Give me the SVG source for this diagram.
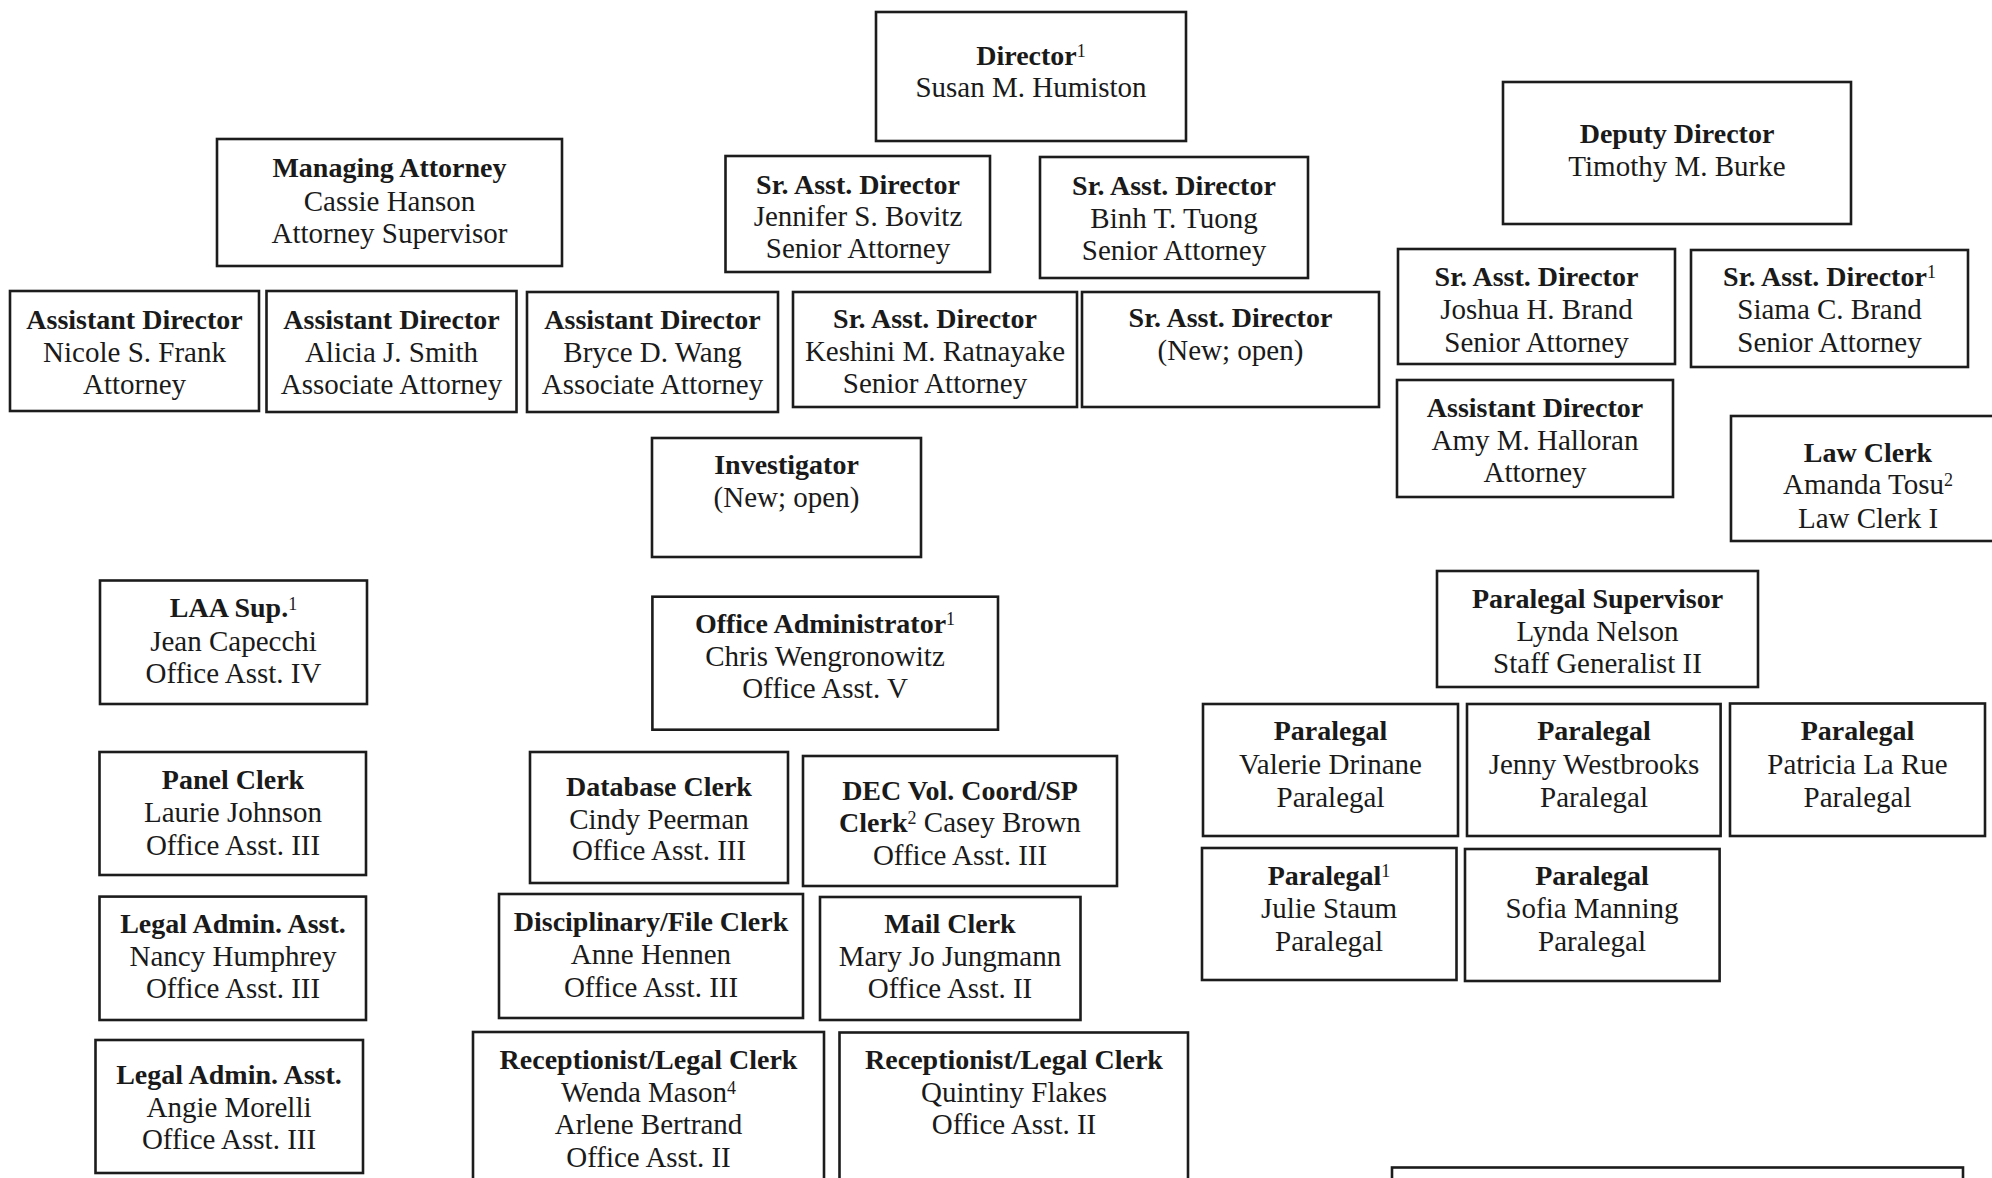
<svg xmlns="http://www.w3.org/2000/svg" width="1992" height="1178" viewBox="0 0 1992 1178">
<style>
.box{fill:#fff;stroke:#1c1c1c;stroke-width:2.6}
text{font-family:"Liberation Serif","Times New Roman",serif;font-size:29px;text-anchor:middle;fill:#1a1a1a}
.b{font-weight:bold;font-size:28px}
.sup{font-size:18px;font-weight:normal}
</style>
<rect width="1992" height="1178" fill="#fff"/>
<g id="connectors"></g>

<g id="director">
<rect class="box" x="876" y="12" width="310" height="129"/>
<text x="1031" y="65" class="b">Director<tspan class="sup" dy="-8">1</tspan></text>
<text x="1031" y="97">Susan M. Humiston</text>
</g>

<g id="managing-attorney">
<rect class="box" x="217" y="139" width="345" height="127"/>
<text x="389.5" y="177" class="b">Managing Attorney</text>
<text x="389.5" y="210.5">Cassie Hanson</text>
<text x="389.5" y="243">Attorney Supervisor</text>
</g>

<g id="sad-bovitz">
<rect class="box" x="725.5" y="156" width="264.5" height="116"/>
<text x="858" y="194" class="b">Sr. Asst. Director</text>
<text x="858" y="226">Jennifer S. Bovitz</text>
<text x="858" y="258">Senior Attorney</text>
</g>

<g id="sad-tuong">
<rect class="box" x="1040" y="157" width="268" height="121"/>
<text x="1174" y="195" class="b">Sr. Asst. Director</text>
<text x="1174" y="228">Binh T. Tuong</text>
<text x="1174" y="260">Senior Attorney</text>
</g>

<g id="deputy-director">
<rect class="box" x="1503" y="82" width="348" height="142"/>
<text x="1677" y="143" class="b">Deputy Director</text>
<text x="1677" y="176">Timothy M. Burke</text>
</g>

<g id="ad-frank">
<rect class="box" x="10" y="291" width="249" height="120"/>
<text x="134.5" y="329" class="b">Assistant Director</text>
<text x="134.5" y="361.5">Nicole S. Frank</text>
<text x="134.5" y="393.5">Attorney</text>
</g>

<g id="ad-smith">
<rect class="box" x="266.5" y="291" width="250" height="121"/>
<text x="391.5" y="329" class="b">Assistant Director</text>
<text x="391.5" y="361.5">Alicia J. Smith</text>
<text x="391.5" y="393.5">Associate Attorney</text>
</g>

<g id="ad-wang">
<rect class="box" x="527" y="292" width="251" height="120"/>
<text x="652.5" y="329" class="b">Assistant Director</text>
<text x="652.5" y="361.5">Bryce D. Wang</text>
<text x="652.5" y="393.5">Associate Attorney</text>
</g>

<g id="sad-ratnayake">
<rect class="box" x="793" y="292" width="284" height="115"/>
<text x="935" y="328" class="b">Sr. Asst. Director</text>
<text x="935" y="361">Keshini M. Ratnayake</text>
<text x="935" y="393">Senior Attorney</text>
</g>

<g id="sad-open">
<rect class="box" x="1082" y="292" width="297" height="115"/>
<text x="1230.5" y="327" class="b">Sr. Asst. Director</text>
<text x="1230.5" y="360">(New; open)</text>
</g>

<g id="sad-jbrand">
<rect class="box" x="1398" y="249" width="277" height="115"/>
<text x="1536.5" y="286" class="b">Sr. Asst. Director</text>
<text x="1536.5" y="319">Joshua H. Brand</text>
<text x="1536.5" y="352">Senior Attorney</text>
</g>

<g id="sad-sbrand">
<rect class="box" x="1691" y="250" width="277" height="117"/>
<text x="1829.5" y="286" class="b">Sr. Asst. Director<tspan class="sup" dy="-8">1</tspan></text>
<text x="1829.5" y="319">Siama C. Brand</text>
<text x="1829.5" y="352">Senior Attorney</text>
</g>

<g id="ad-halloran">
<rect class="box" x="1397" y="380" width="276" height="117"/>
<text x="1535" y="417" class="b">Assistant Director</text>
<text x="1535" y="450">Amy M. Halloran</text>
<text x="1535" y="482">Attorney</text>
</g>

<g id="investigator">
<rect class="box" x="652" y="438" width="269" height="119"/>
<text x="786.5" y="474" class="b">Investigator</text>
<text x="786.5" y="507">(New; open)</text>
</g>

<g id="law-clerk">
<rect class="box" x="1731" y="416" width="274" height="125"/>
<text x="1868" y="461.5" class="b">Law Clerk</text>
<text x="1868" y="494">Amanda Tosu<tspan class="sup" dy="-8">2</tspan></text>
<text x="1868" y="527.5">Law Clerk I</text>
</g>

<g id="laa-sup">
<rect class="box" x="100" y="580.5" width="267" height="123.5"/>
<text x="233.5" y="617" class="b">LAA Sup.<tspan class="sup" dy="-7">1</tspan></text>
<text x="233.5" y="651">Jean Capecchi</text>
<text x="233.5" y="683">Office Asst. IV</text>
</g>

<g id="office-admin">
<rect class="box" x="652.4" y="596.7" width="345.6" height="133"/>
<text x="825" y="633" class="b">Office Administrator<tspan class="sup" dy="-8">1</tspan></text>
<text x="825" y="665.6">Chris Wengronowitz</text>
<text x="825" y="698">Office Asst. V</text>
</g>

<g id="paralegal-supervisor">
<rect class="box" x="1437" y="571" width="321" height="116"/>
<text x="1597.5" y="608" class="b">Paralegal Supervisor</text>
<text x="1597.5" y="641">Lynda Nelson</text>
<text x="1597.5" y="673">Staff Generalist II</text>
</g>

<g id="panel-clerk">
<rect class="box" x="99.5" y="752" width="266.5" height="123"/>
<text x="233" y="789.4" class="b">Panel Clerk</text>
<text x="233" y="822">Laurie Johnson</text>
<text x="233" y="855">Office Asst. III</text>
</g>

<g id="database-clerk">
<rect class="box" x="530" y="752" width="258" height="131"/>
<text x="659" y="795.7" class="b">Database Clerk</text>
<text x="659" y="828.8">Cindy Peerman</text>
<text x="659" y="860">Office Asst. III</text>
</g>

<g id="dec-vol">
<rect class="box" x="803" y="756" width="314" height="130"/>
<text x="960" y="800" class="b">DEC Vol. Coord/SP</text>
<text x="960" y="832"><tspan font-weight="bold" font-size="28">Clerk</tspan><tspan class="sup" dy="-8">2</tspan><tspan dy="8"> Casey Brown</tspan></text>
<text x="960" y="865">Office Asst. III</text>
</g>

<g id="paralegal-drinane">
<rect class="box" x="1203" y="704" width="255" height="132"/>
<text x="1330.5" y="740" class="b">Paralegal</text>
<text x="1330.5" y="774">Valerie Drinane</text>
<text x="1330.5" y="806.5">Paralegal</text>
</g>

<g id="paralegal-westbrooks">
<rect class="box" x="1467" y="704" width="253.6" height="132"/>
<text x="1594" y="740" class="b">Paralegal</text>
<text x="1594" y="774">Jenny Westbrooks</text>
<text x="1594" y="806.5">Paralegal</text>
</g>

<g id="paralegal-larue">
<rect class="box" x="1730" y="703.5" width="255" height="132.5"/>
<text x="1857.5" y="740" class="b">Paralegal</text>
<text x="1857.5" y="774">Patricia La Rue</text>
<text x="1857.5" y="806.5">Paralegal</text>
</g>

<g id="legal-admin-humphrey">
<rect class="box" x="99.5" y="896.6" width="266.5" height="123.4"/>
<text x="233" y="932.5" class="b">Legal Admin. Asst.</text>
<text x="233" y="966">Nancy Humphrey</text>
<text x="233" y="998">Office Asst. III</text>
</g>

<g id="disciplinary-clerk">
<rect class="box" x="499" y="894" width="304" height="124"/>
<text x="651" y="931" class="b">Disciplinary/File Clerk</text>
<text x="651" y="964">Anne Hennen</text>
<text x="651" y="996.7">Office Asst. III</text>
</g>

<g id="mail-clerk">
<rect class="box" x="820" y="897" width="260.5" height="123"/>
<text x="950" y="932.5" class="b">Mail Clerk</text>
<text x="950" y="966">Mary Jo Jungmann</text>
<text x="950" y="998">Office Asst. II</text>
</g>

<g id="paralegal-staum">
<rect class="box" x="1202" y="848" width="254.5" height="132"/>
<text x="1329" y="885" class="b">Paralegal<tspan class="sup" dy="-8">1</tspan></text>
<text x="1329" y="918">Julie Staum</text>
<text x="1329" y="951">Paralegal</text>
</g>

<g id="paralegal-manning">
<rect class="box" x="1465" y="849" width="254.6" height="132"/>
<text x="1592" y="885" class="b">Paralegal</text>
<text x="1592" y="918">Sofia Manning</text>
<text x="1592" y="951">Paralegal</text>
</g>

<g id="legal-admin-morelli">
<rect class="box" x="95.5" y="1040" width="267.5" height="133"/>
<text x="229" y="1084" class="b">Legal Admin. Asst.</text>
<text x="229" y="1116.6">Angie Morelli</text>
<text x="229" y="1148.5">Office Asst. III</text>
</g>

<g id="receptionist-1">
<rect class="box" x="473" y="1032" width="351" height="170"/>
<text x="648.5" y="1069" class="b">Receptionist/Legal Clerk</text>
<text x="648.5" y="1101.7">Wenda Mason<tspan class="sup" dy="-8">4</tspan></text>
<text x="648.5" y="1133.5">Arlene Bertrand</text>
<text x="648.5" y="1166.5">Office Asst. II</text>
</g>

<g id="receptionist-2">
<rect class="box" x="839.5" y="1032.5" width="348.5" height="170"/>
<text x="1014" y="1068.5" class="b">Receptionist/Legal Clerk</text>
<text x="1014" y="1101.5">Quintiny Flakes</text>
<text x="1014" y="1133.5">Office Asst. II</text>
</g>

<g id="bottom-box">
<rect class="box" x="1392" y="1167.5" width="571" height="50"/>
</g>
</svg>
